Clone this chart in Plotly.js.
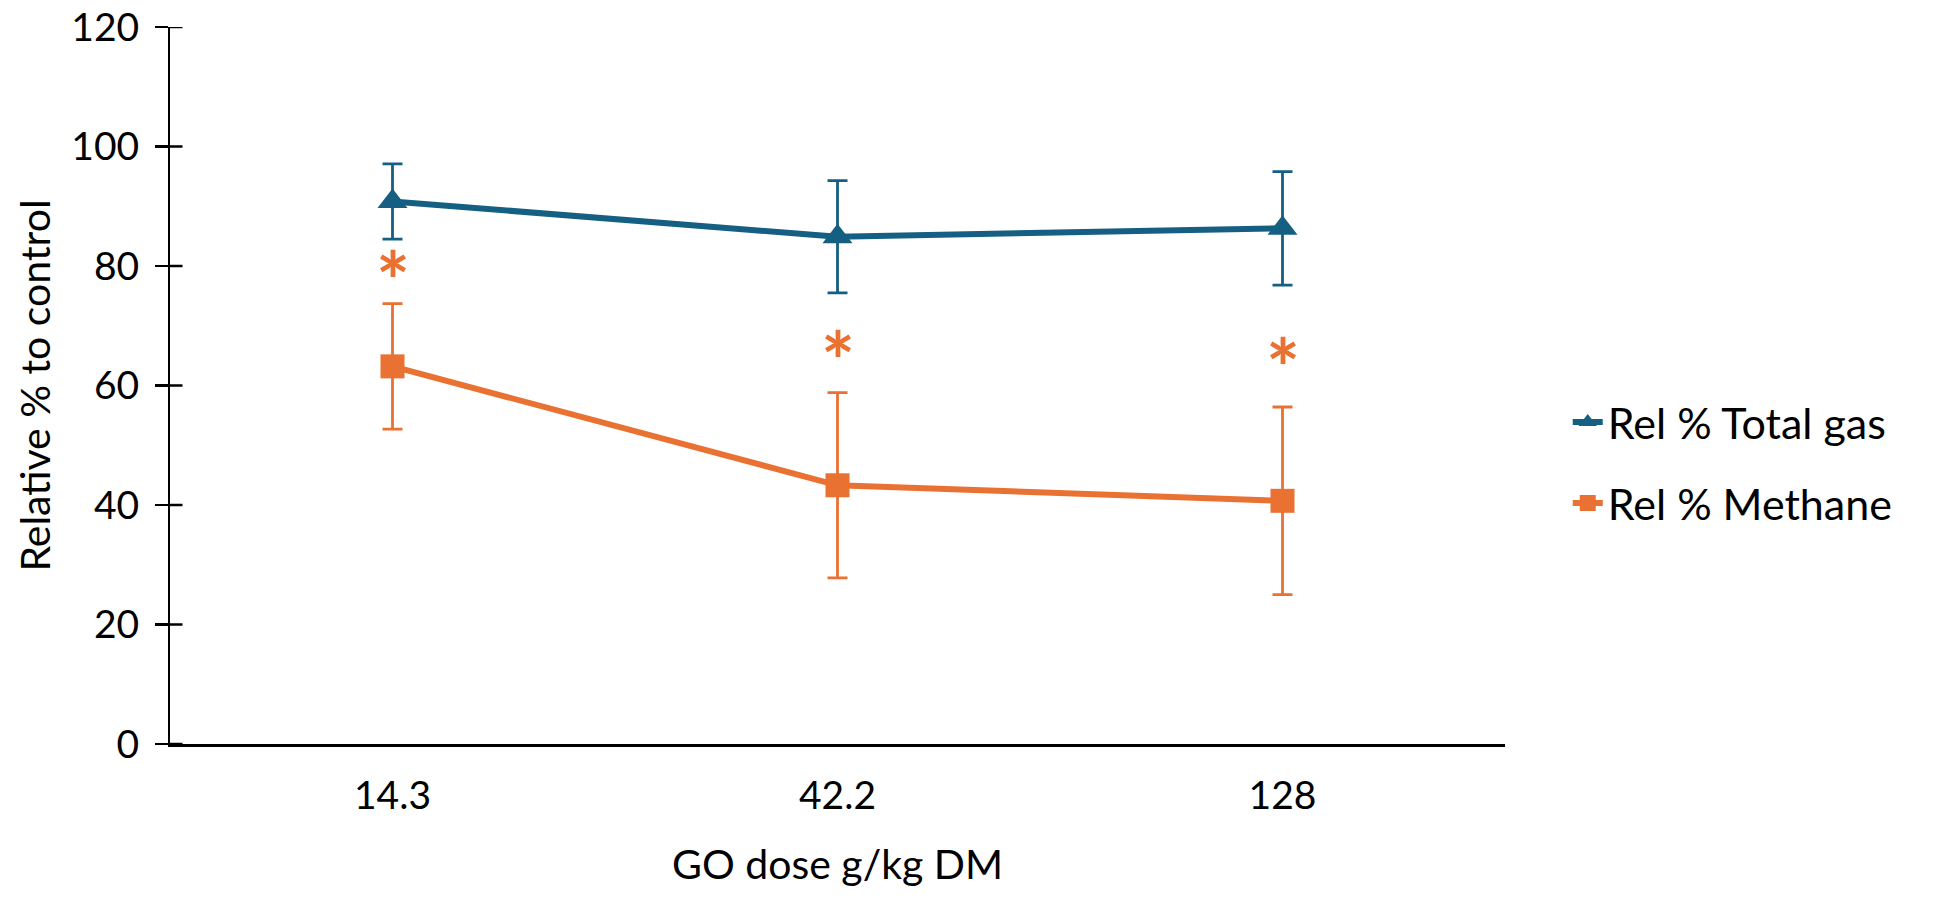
<!DOCTYPE html>
<html>
<head>
<meta charset="utf-8">
<script src="https://cdn.plot.ly/plotly-3.0.1.min.js"></script>
<style>
  html, body { margin: 0; padding: 0; background: #fff; }
  #chart { width: 1940px; height: 899px; }
</style>
</head>
<body>
<div id="chart"></div>
<script>
// ─── data ──────────────────────────────────────────────────
var doses = ['14.3', '42.2', '128'];
var totalGas = [90.8, 84.9, 86.3];
var totalGasErr = [6.3, 9.4, 9.5];
var methane = [63.2, 43.3, 40.7];
var methaneErr = [10.5, 15.5, 15.7];
var starY = [80.5, 67.1, 65.9];   // significance markers (methane)
var yTicks = [0, 20, 40, 60, 80, 100, 120];

var BLUE = '#156082';
var ORANGE = '#E97132';
var FONT = 'Lato, "Open Sans", sans-serif';
var PLOT_W = 1940 - 170 - 435;
var TICK_HALF = 12.5;

var traces = [
  {
    type: 'scatter', mode: 'lines+markers', name: 'Rel % Total gas',
    x: doses, y: totalGas, legendgroup: 'gas',
    line: { color: BLUE, width: 6 },
    marker: { symbol: 'triangle-up', size: 26, color: BLUE },
    error_y: { type: 'data', array: totalGasErr, visible: true, color: BLUE, thickness: 2.8, width: 10 },
  },
  {
    type: 'scatter', mode: 'lines+markers', name: 'Rel % Methane',
    x: doses, y: methane, legendgroup: 'ch4',
    line: { color: ORANGE, width: 6 },
    marker: { symbol: 'square', size: 24, color: ORANGE },
    error_y: { type: 'data', array: methaneErr, visible: true, color: ORANGE, thickness: 2.8, width: 10 },
  },
];

// asterisks above the methane points (x given as category index)
var stars = doses.map(function (d, i) {
  return {
    x: i, y: starY[i], xref: 'x', yref: 'y', text: '<b>*</b>', showarrow: false,
    yanchor: 'middle', yshift: -17,
    font: { family: FONT, size: 80, color: ORANGE },
  };
});

// inner half of the crossing y ticks
var innerTicks = yTicks.map(function (v) {
  return {
    type: 'line', xref: 'paper', yref: 'y', layer: 'above',
    x0: 0, x1: TICK_HALF / PLOT_W, y0: v, y1: v,
    line: { color: '#000', width: 2.5 },
  };
});

var layout = {
  width: 1940, height: 899,
  margin: { l: 170, r: 435, t: 27, b: 155 },
  paper_bgcolor: '#fff', plot_bgcolor: '#fff',
  font: { family: FONT, size: 39, color: '#000' },
  showlegend: true,
  legend: {
    x: 1.047, xanchor: 'left', y: 0.497, yanchor: 'top',
    traceorder: 'grouped', tracegroupgap: 22,
    font: { family: FONT, size: 43, color: '#000' },
  },
  xaxis: {
    type: 'category', range: [-0.5, 2.5],
    showline: true, linecolor: '#000', linewidth: 2.5,
    ticks: '', showgrid: false, zeroline: false,
    ticklabelstandoff: 16,
    title: { text: 'GO dose g/kg DM', standoff: 34, font: { size: 41 } },
  },
  yaxis: {
    range: [0, 120], tickvals: yTicks,
    showline: true, linecolor: '#000', linewidth: 2.5,
    ticks: 'outside', ticklen: TICK_HALF, tickwidth: 2.5, tickcolor: '#000',
    ticklabelstandoff: 8,
    showgrid: false, zeroline: false,
    title: { text: 'Relative % to control', standoff: 8, font: { size: 41 } },
  },
  shapes: innerTicks,
  annotations: stars,
};

Plotly.newPlot('chart', traces, layout, { staticPlot: true, displayModeBar: false });
</script>
</body>
</html>
